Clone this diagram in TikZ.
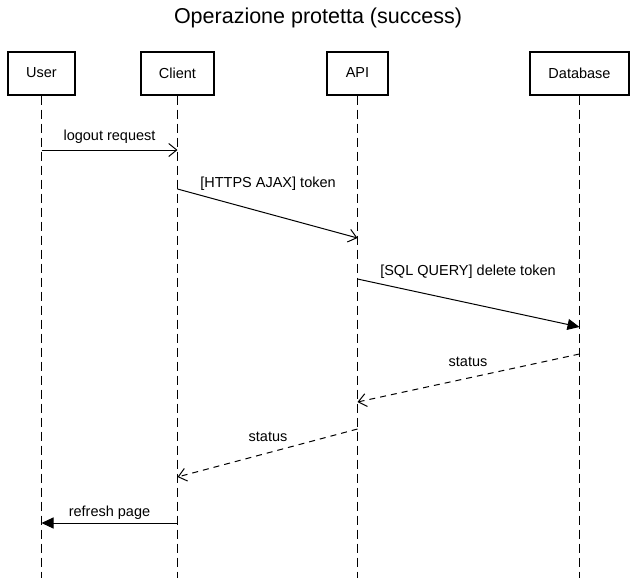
\documentclass[tikz,border=0pt]{standalone}
\usepackage{fontspec}
\setmainfont{Liberation Sans}
\usetikzlibrary{arrows.meta,positioning}

\tikzset{
  actor/.style={draw, line width=2pt, minimum height=43pt, inner sep=0pt, font=\fontsize{14.5}{17}\selectfont},
  lifeline/.style={line width=1.2pt, dash pattern=on 9pt off 5pt},
  msg/.style={line width=1pt, -{Straight Barb[length=8pt,width=13pt]}},
  msgsync/.style={line width=1pt, -{Triangle[length=12pt,width=11pt]}},
  reply/.style={msg, dash pattern=on 6pt off 5pt},
  msglabel/.style={font=\fontsize{14.5}{17}\selectfont, inner sep=1pt},
}

\begin{document}
\begin{tikzpicture}[x=1pt,y=-1pt]
    \useasboundingbox (0,0) rectangle (636,581);
    \node (title) at (318,18) {\fontsize{21.5}{25}\selectfont Operazione protetta (success)};

    % participants
    \node[actor, minimum width=67pt] (user) at (41.5,73) {User};
    \node[actor, minimum width=73pt] (client) at (177.5,73) {Client};
    \node[actor, minimum width=61pt] (api) at (357.5,73) {API};
    \node[actor, minimum width=99pt] (db) at (579.5,73) {Database};

    % lifelines
    \coordinate (userEnd) at (41.5,578);
    \coordinate (clientEnd) at (177.5,578);
    \coordinate (apiEnd) at (357.5,578);
    \coordinate (dbEnd) at (579.5,578);
    \draw[lifeline] (user.south) -- (userEnd);
    \draw[lifeline] (client.south) -- (clientEnd);
    \draw[lifeline] (api.south) -- (apiEnd);
    \draw[lifeline] (db.south) -- (dbEnd);

    % messages
    \coordinate (m1a) at (41.5,150);   \coordinate (m1b) at (177.5,150);
    \coordinate (m2a) at (177.5,189);  \coordinate (m2b) at (357.5,238);
    \coordinate (m3a) at (357.5,279);  \coordinate (m3b) at (579.5,327);
    \coordinate (m4a) at (579.5,354);  \coordinate (m4b) at (357.5,402);
    \coordinate (m5a) at (357.5,429);  \coordinate (m5b) at (177.5,477);
    \coordinate (m6a) at (177.5,523);  \coordinate (m6b) at (41.5,523);

    \draw[msg] (m1a) -- (m1b);
    \draw[msg] (m2a) -- (m2b);
    \draw[msgsync] (m3a) -- (m3b);
    \draw[reply] (m4a) -- (m4b);
    \draw[reply] (m5a) -- (m5b);
    \draw[msgsync] (m6a) -- (m6b);

    % labels
    \node[msglabel] (l1) at (109.5,137) {logout request};
    \node[msglabel] (l2) at (268,184) {[HTTPS AJAX] token};
    \node[msglabel] (l3) at (468,272) {[SQL QUERY] delete token};
    \node[msglabel] (l4) at (468,362) {status};
    \node[msglabel] (l5) at (268,437) {status};
    \node[msglabel] (l6) at (109.5,513) {refresh page};
\end{tikzpicture}
\end{document}
